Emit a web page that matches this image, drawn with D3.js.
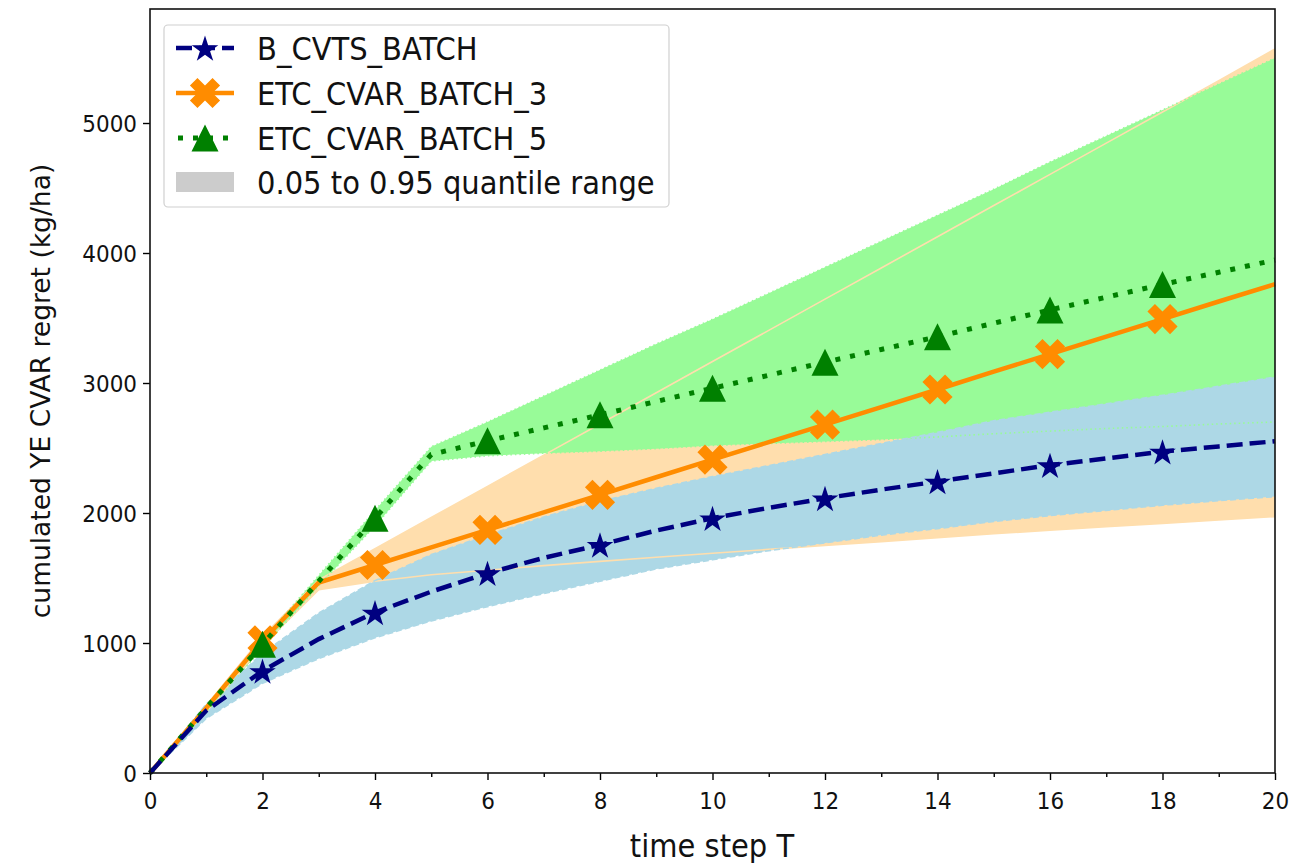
<!DOCTYPE html>
<html>
<head>
<meta charset="utf-8">
<script src="https://cdn.jsdelivr.net/npm/d3@7"></script>
<style>
  body { margin: 0; background: #fff; }
  svg { font-family: 'DejaVu Sans', sans-serif; }
</style>
</head>
<body>
<svg id="chart" width="1297" height="863"></svg>
<script>
// Data (time step T = 0..20)
const steps = d3.range(0, 21)
const xTicks = [0, 2, 4, 6, 8, 10, 12, 14, 16, 18, 20]
const xMinorTicks = [1, 3, 5, 7, 9, 11, 13, 15, 17, 19]
const yTicks = [0, 1000, 2000, 3000, 4000, 5000]

const cvtsMean = [0, 480, 785, 1030, 1235, 1395, 1537, 1655, 1755, 1865, 1960, 2040, 2113, 2180, 2242, 2305, 2368, 2420, 2472, 2512, 2552]
const cvtsLow = [0, 420, 690, 880, 1040, 1170, 1280, 1380, 1475, 1570, 1640, 1710, 1770, 1830, 1880, 1935, 1980, 2020, 2060, 2095, 2126]
const cvtsHigh = [0, 530, 920, 1230, 1480, 1680, 1830, 1970, 2090, 2190, 2280, 2365, 2450, 2535, 2620, 2710, 2775, 2840, 2905, 2975, 3046]

const etc3Mean = [0, 500, 1020, 1465, 1600, 1735, 1870, 2005, 2140, 2275, 2410, 2545, 2680, 2815, 2950, 3087, 3222, 3357, 3492, 3627, 3760]
const etc3Low = [0, 470, 980, 1410, 1475, 1525, 1560, 1595, 1628, 1660, 1690, 1720, 1750, 1780, 1810, 1840, 1868, 1895, 1920, 1947, 1972]
const etc3High = [0, 520, 1050, 1485, 1725, 1965, 2205, 2445, 2685, 2925, 3165, 3405, 3645, 3885, 4125, 4365, 4605, 4845, 5085, 5325, 5570]

const etc5Mean = [0, 500, 990, 1475, 1960, 2450, 2555, 2655, 2755, 2858, 2960, 3060, 3160, 3258, 3356, 3460, 3562, 3660, 3758, 3852, 3946]
const etc5Low = [0, 470, 960, 1440, 1900, 2400, 2440, 2460, 2475, 2495, 2520, 2535, 2550, 2565, 2585, 2610, 2630, 2650, 2665, 2685, 2700]
const etc5High = [0, 520, 1020, 1520, 2020, 2510, 2700, 2900, 3100, 3300, 3490, 3690, 3890, 4090, 4290, 4490, 4700, 4900, 5100, 5300, 5500]

const markerSteps = [2, 4, 6, 8, 10, 12, 14, 16, 18]

// Series styles (draw order: orange, green, blue)
const series = [
  { name: 'ETC_CVAR_BATCH_3', mean: etc3Mean, low: etc3Low, high: etc3High,
    color: '#ff8c00', band: '#ffdead', dash: null, edgeDash: null, marker: 'x' },
  { name: 'ETC_CVAR_BATCH_5', mean: etc5Mean, low: etc5Low, high: etc5High,
    color: '#008000', band: '#98fb98', dash: '5,10', edgeDash: '1.5,3', marker: 'tri' },
  { name: 'B_CVTS_BATCH', mean: cvtsMean, low: cvtsLow, high: cvtsHigh,
    color: '#000080', band: '#add8e6', dash: '16,7', edgeDash: '6,3', marker: 'star' }
]

const box = { left: 150, right: 1275, top: 9, bottom: 773 }
const stretch = 1.09 // glyphs in the picture are a bit taller than wide
const tickFont = 21.5, labelFont = 29

const x = d3.scaleLinear().domain([0, 20]).range([box.left, box.right])
const y = d3.scaleLinear().domain([0, 5877]).range([box.bottom, box.top])

const svg = d3.select('#chart')

// marker paths
const xPath = (() => {
  const pts = [[-1, -3], [1, -3], [1, -1], [3, -1], [3, 1], [1, 1], [1, 3], [-1, 3], [-1, 1], [-3, 1], [-3, -1], [-1, -1]]
  const s = 32 / 6, c = Math.SQRT1_2
  return 'M' + pts.map(([a, b]) => [(a * c - b * c) * s, (a * c + b * c) * s].map(v => v.toFixed(2)).join(',')).join('L') + 'Z'
})()
const triPath = (() => {
  const h = 13.5
  return `M0,${-h}L${-h},${h}L${h},${h}Z`
})()
const starPath = d3.symbol(d3.symbolStar, 14 * 14 / 0.8908130915292852)()
const markerPath = { x: xPath, tri: triPath, star: starPath }

const drawMarker = (g, type, color, cx, cy) => {
  g.append('path')
    .attr('d', markerPath[type])
    .attr('transform', `translate(${cx},${cy})` + (type === 'star' ? ' translate(0,1.5)' : ''))
    .attr('fill', color)
}

// text helper: horizontal text with a small vertical stretch
const addText = (g, tx, ty, str, size, anchor) => g.append('text')
  .attr('transform', `translate(${tx},${ty}) scale(1,${stretch})`)
  .attr('text-anchor', anchor || 'start')
  .attr('font-size', size).attr('fill', '#111')
  .text(str)

const plot = svg.append('g')

// Bands
series.forEach(s => {
  const area = d3.area()
    .x(i => x(steps[i]))
    .y0(i => y(s.low[i]))
    .y1(i => y(s.high[i]))
  plot.append('path')
    .attr('d', area(d3.range(steps.length)))
    .attr('fill', s.band)
})

// Band edges (visible through the other bands)
series.forEach(s => {
  ['low', 'high'].forEach(k => {
    const edge = d3.line().x(i => x(steps[i])).y(i => y(s[k][i]))
    plot.append('path')
      .attr('d', edge(d3.range(steps.length)))
      .attr('fill', 'none')
      .attr('stroke', s.band)
      .attr('stroke-width', 1.6)
      .attr('stroke-dasharray', s.edgeDash)
  })
})

// Mean lines and markers
series.forEach(s => {
  const line = d3.line().x(i => x(steps[i])).y(i => y(s.mean[i]))
  plot.append('path')
    .attr('d', line(d3.range(steps.length)))
    .attr('fill', 'none')
    .attr('stroke', s.color)
    .attr('stroke-width', s.marker === 'tri' ? 5 : 4.5)
    .attr('stroke-dasharray', s.dash)
  markerSteps.forEach(t => drawMarker(plot, s.marker, s.color, x(t), y(s.mean[t])))
})

// Axes
svg.append('g')
  .attr('class', 'x-major')
  .attr('transform', `translate(0,${box.bottom})`)
  .call(d3.axisBottom(x).tickValues(xTicks).tickSize(7).tickFormat(d3.format('d')))
svg.append('g')
  .attr('transform', `translate(0,${box.bottom})`)
  .call(d3.axisBottom(x).tickValues(xMinorTicks).tickSize(4).tickFormat(''))
svg.append('g')
  .attr('class', 'y-major')
  .attr('transform', `translate(${box.left},0)`)
  .call(d3.axisLeft(y).tickValues(yTicks).tickSize(7).tickFormat(d3.format('d')))

svg.selectAll('.tick line').attr('stroke', '#000').attr('stroke-width', 1.4)
svg.selectAll('.domain').remove()
svg.selectAll('.tick text')
  .attr('font-family', 'DejaVu Sans, sans-serif')
  .attr('font-size', tickFont)
  .attr('fill', '#111')
  .attr('x', null).attr('y', null).attr('dy', null)
svg.selectAll('.x-major .tick text')
  .attr('transform', `translate(0,36) scale(1,${stretch})`)
svg.selectAll('.y-major .tick text')
  .attr('transform', `translate(-13,${0.365 * tickFont * stretch}) scale(1,${stretch})`)

// Frame
svg.append('rect')
  .attr('x', box.left).attr('y', box.top)
  .attr('width', box.right - box.left).attr('height', box.bottom - box.top)
  .attr('fill', 'none').attr('stroke', '#111').attr('stroke-width', 1.6)

// Axis labels
addText(svg, 712, 857, 'time step T', labelFont, 'middle')
svg.append('text')
  .attr('transform', 'translate(41,391) rotate(-90)')
  .attr('text-anchor', 'middle')
  .attr('dy', '0.35em')
  .attr('font-size', 26.5).attr('fill', '#111')
  .text('cumulated YE CVAR regret (kg/ha)')

// Legend
const legend = svg.append('g')
legend.append('rect')
  .attr('x', 164).attr('y', 25).attr('width', 505).attr('height', 182)
  .attr('rx', 4)
  .attr('fill', 'rgba(255,255,255,0.85)')
  .attr('stroke', '#d0d0d0').attr('stroke-width', 1.2)

const legendItems = [series[2], series[0], series[1]]
const rowY = [48, 93, 138, 182]
const capShift = 0.365 * labelFont * stretch
legendItems.forEach((s, i) => {
  const cy = rowY[i]
  legend.append('line')
    .attr('x1', 176).attr('x2', 234).attr('y1', cy).attr('y2', cy)
    .attr('stroke', s.color)
    .attr('stroke-width', s.marker === 'tri' ? 5 : 4.5)
    .attr('stroke-dasharray', s.dash)
    .attr('stroke-dashoffset', s.marker === 'tri' ? -2 : 0)
  drawMarker(legend, s.marker, s.color, 205, cy)
  addText(legend, 257, cy + capShift, s.name, labelFont)
})
legend.append('rect')
  .attr('x', 176).attr('y', rowY[3] - 10).attr('width', 58).attr('height', 20)
  .attr('fill', '#cccccc')
addText(legend, 257, rowY[3] + capShift, '0.05 to 0.95 quantile range', labelFont)
</script>
</body>
</html>
